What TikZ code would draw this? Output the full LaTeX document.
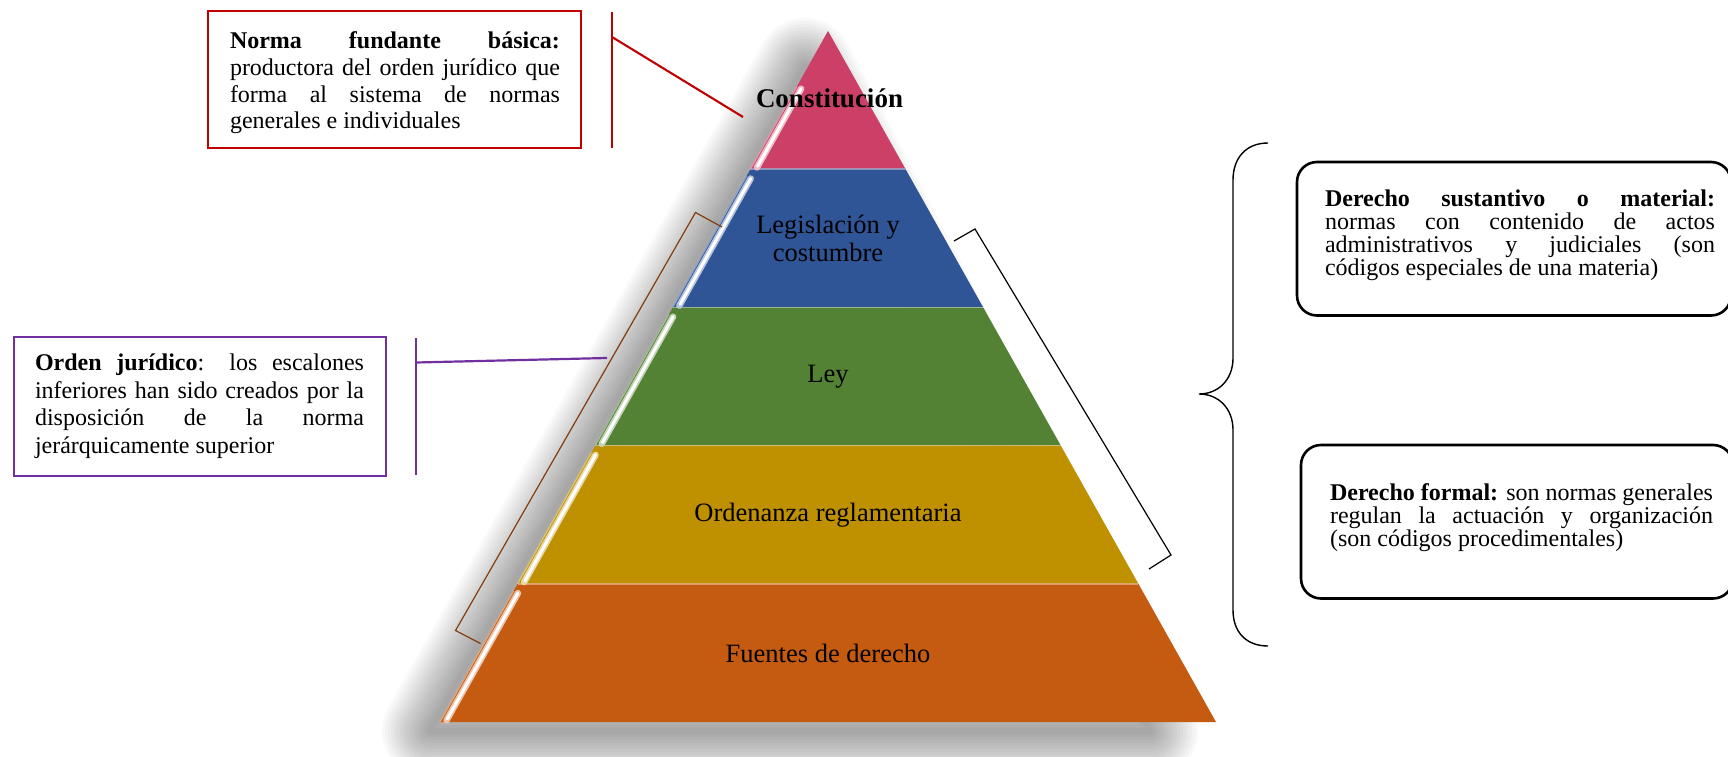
\documentclass[tikz,border=0pt]{standalone}
\usepackage{fontspec}
\setmainfont{Liberation Serif}
\usetikzlibrary{calc}

\definecolor{cpink}{RGB}{204,63,102}
\definecolor{cblue}{RGB}{47,85,151}
\definecolor{cgreen}{RGB}{84,130,53}
\definecolor{cgold}{RGB}{191,144,0}
\definecolor{corange}{RGB}{197,90,17}
\definecolor{cred}{RGB}{192,0,0}
\definecolor{cpurple}{RGB}{112,48,160}
\definecolor{cbrown}{RGB}{132,60,12}

\tikzset{
  lbl/.style={font=\fontsize{26.5}{28}\selectfont, align=center, inner sep=0pt},
  note/.style={align=justify, inner sep=0pt},
  redline/.style={draw=cred, line width=2.1pt},
  purpleline/.style={draw=cpurple, line width=2.2pt},
  roundbox/.style={draw=black, line width=2.6pt, rounded corners=20pt},
  bracketline/.style={line width=1.2pt, line join=miter},
  braceline/.style={draw=black, line width=1.4pt},
}

\begin{document}
\hbadness=10000
\begin{tikzpicture}[x=1pt, y=-1pt]
\useasboundingbox (0,0) rectangle (1728,757);
\fill[white] (0,0) rectangle (1728,757);

% corner points of the pyramid layers
\coordinate (apex) at (828,31);
\coordinate (l1) at (750.4,169.2); \coordinate (r1) at (905.6,169.2);
\coordinate (l2) at (672.8,307.4); \coordinate (r2) at (983.2,307.4);
\coordinate (l3) at (595.2,445.6); \coordinate (r3) at (1060.8,445.6);
\coordinate (l4) at (517.6,583.8); \coordinate (r4) at (1138.4,583.8);
\coordinate (l5) at (440,722);     \coordinate (r5) at (1216,722);

% soft drop shadow: stacked translucent strokes fade outwards
\foreach \w in {6,12,...,96} {
  \draw[black, draw opacity=0.022, line width=\w, line join=round]
    (805,66) -- (1150,731) -- (430,731) -- cycle;
}

% layers
\fill[cpink]   (apex) -- (r1) -- (l1) -- cycle;
\fill[cblue]   (l1) -- (r1) -- (r2) -- (l2) -- cycle;
\fill[cgreen]  (l2) -- (r2) -- (r3) -- (l3) -- cycle;
\fill[cgold]   (l3) -- (r3) -- (r4) -- (l4) -- cycle;
\fill[corange] (l4) -- (r4) -- (r5) -- (l5) -- cycle;

% light rims on the top edges
\foreach \a/\b/\c in {l1/r1/cblue, l2/r2/cgreen, l3/r3/cgold, l4/r4/corange} {
  \draw[\c!45!white, line width=1.6pt, draw opacity=0.7] (\a) -- (\b);
}

% glossy bevel strips along the left edges
\foreach \t/\b/\c/\f in {apex/l1/cpink/0.6, l1/l2/cblue/0.95, l2/l3/cgreen/0.95,
                         l3/l4/cgold/0.95, l4/l5/corange/0.95} {
  \draw[\c!55!white, line width=1.3pt] (\b) -- ($(\b)!\f!(\t)$);
  \draw[\c!35!white, line width=6.5pt, line cap=round]
    ($(\b)!0.03!(\t)+(4.2,2.4)$) -- ($(\b)!\f!(\t)+(4.2,2.4)$);
  \draw[white, line width=3pt, line cap=round]
    ($(\b)!0.04!(\t)+(4.2,2.4)$) -- ($(\b)!\f!(\t)+(4.2,2.4)$);
}

% layer labels
\node[lbl, font=\bfseries\fontsize{27}{28}\selectfont] (const) at (829.5,98.5) {Constitución};
\node[lbl] (legis) at (828,238.3) {Legislación y\\costumbre};
\node[lbl] (ley)   at (828,376.5) {Ley};
\node[lbl] (orden) at (828,514.7) {Ordenanza reglamentaria};
\node[lbl] (fuent) at (828,653)   {Fuentes de derecho};

% top-left note
\draw[cred, line width=2.2pt] (208,11) rectangle (581,148);
\node[note, text width=330pt, font=\fontsize{24}{26.7}\selectfont] (fundante) at (395,83)
  {\textbf{Norma fundante básica:}\linebreak productora del orden jurídico que\linebreak
   forma al sistema de normas\linebreak generales e individuales};
\coordinate (redtop) at (612,12);
\coordinate (redbot) at (612,148);
\coordinate (redjoin) at (612,37);
\coordinate (redtip) at (743,117);
\draw[redline] (redtop) -- (redbot);
\draw[redline] (redjoin) -- (redtip);

% left note
\draw[cpurple, line width=2.4pt] (14,337) rectangle (386,476);
\node[note, text width=329pt, font=\fontsize{24}{27.5}\selectfont] (ordenj) at (199.5,406)
  {\textbf{Orden jurídico}: los escalones\linebreak inferiores han sido creados por la\linebreak
   disposición de la norma\linebreak jerárquicamente superior};
\coordinate (purtop) at (416,338);
\coordinate (purbot) at (416,475);
\coordinate (purjoin) at (416,362.5);
\coordinate (purtip) at (607,358);
\draw[purpleline] (purtop) -- (purbot);
\draw[purpleline] (purjoin) -- (purtip);

% bracket beside the left slope
\coordinate (bb1) at (722,227);
\coordinate (bb2) at (695.5,212.5);
\coordinate (bb3) at (455.5,630.5);
\coordinate (bb4) at (480.5,643.5);
\draw[bracketline, cbrown] (bb1) -- (bb2) -- (bb3) -- (bb4);

% bracket beside the right slope
\coordinate (kb1) at (954,241);
\coordinate (kb2) at (975,229);
\coordinate (kb3) at (1171,555);
\coordinate (kb4) at (1149,569);
\draw[bracketline, black] (kb1) -- (kb2) -- (kb3) -- (kb4);

% curly brace
\coordinate (brtop) at (1268,143);
\coordinate (brtip) at (1199,394);
\coordinate (brbot) at (1268,646);
\draw[braceline] (brtop) .. controls (1246,143) and (1233,158) .. (1233,180)
  -- (1233,358) .. controls (1233,380) and (1218,394) .. (brtip)
  .. controls (1218,394) and (1233,408) .. (1233,430)
  -- (1233,610) .. controls (1233,632) and (1246,646) .. (brbot);

% right-hand notes
\draw[roundbox] (1297,162) rectangle (1731,315.5);
\node[note, text width=390pt, font=\fontsize{24}{23.3}\selectfont] (sustantivo) at (1520,235.3)
  {\textbf{Derecho sustantivo o material:}\linebreak normas con contenido de actos\linebreak
   administrativos y judiciales (son\linebreak códigos especiales de una materia)};

\draw[roundbox] (1301,445) rectangle (1733,598.5);
\node[note, text width=383pt, font=\fontsize{24}{23.3}\selectfont] (formal) at (1521.5,517.7)
  {\textbf{Derecho formal:} son normas generales\linebreak regulan la actuación y organización\linebreak
   (son códigos procedimentales)};
\end{tikzpicture}
\end{document}
